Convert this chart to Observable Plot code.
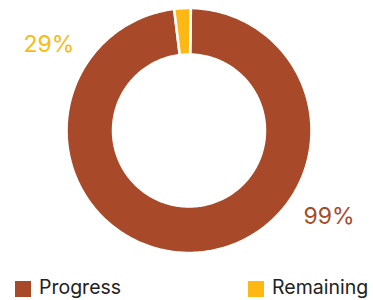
<!DOCTYPE html>
<html>
<head>
<meta charset="utf-8">
<script src="https://cdn.jsdelivr.net/npm/d3@7"></script>
<script src="https://cdn.jsdelivr.net/npm/@observablehq/plot@0.6"></script>
<style>
  html, body { margin: 0; padding: 0; background: #fff; }
  #wrap { width: 373px; height: 300px; position: relative; font-family: Inter, "Noto Sans", sans-serif; }
  .legend { position: absolute; left: 0; top: 269px; width: 373px; height: 31px; }
  .item { position: absolute; top: 0; display: flex; align-items: center; height: 38px; }
  .sw { width: 16px; height: 16px; margin-right: 8px; margin-top: 1px; }
  .lab { font-size: 19.5px; color: #222; line-height: 1; }
</style>
</head>
<body>
<div id="wrap"></div>
<script>
const categories = ["Progress", "Remaining"];
const values = [99, 2.2];
const labels = ["99%", "29%"];
const colors = ["#A8492A", "#FDB813"];

const W = 373, H = 262;
const cx = 188.5, cy = 130, R = 122.5; // px per unit radius
const inner = 0.62;

const pie = d3.pie().sort(null).value(d => d).startAngle(0.015).endAngle(2 * Math.PI + 0.015)(values);

const polys = [];
pie.forEach((p, i) => {
  const n = Math.max(4, Math.ceil((p.endAngle - p.startAngle) / (Math.PI / 180)));
  const pts = [];
  for (let k = 0; k <= n; k++) {
    const a = p.startAngle + (p.endAngle - p.startAngle) * k / n;
    pts.push({x: Math.sin(a), y: Math.cos(a), c: categories[i]});
  }
  for (let k = n; k >= 0; k--) {
    const a = p.startAngle + (p.endAngle - p.startAngle) * k / n;
    pts.push({x: inner * Math.sin(a), y: inner * Math.cos(a), c: categories[i]});
  }
  pts.push({...pts[0]});
  polys.push(pts);
});

const labelData = pie.map((p, i) => {
  const a = (p.startAngle + p.endAngle) / 2 - 55.5 * Math.PI / 180;
  return {x: 1.34 * Math.sin(a), y: 1.34 * Math.cos(a), t: labels[i], c: categories[i]};
});

const chart = Plot.plot({
  width: W, height: H,
  margin: 0,
  style: {fontFamily: "Inter, 'Noto Sans', sans-serif", background: "#fff"},
  x: {domain: [-cx / R, (W - cx) / R], range: [0, W], axis: null},
  y: {domain: [-(H - cy) / R, cy / R], range: [H, 0], axis: null},
  color: {domain: categories, range: colors},
  marks: [
    ...polys.map(pts => Plot.line(pts, {x: "x", y: "y", fill: "c", stroke: "white", strokeWidth: 2.6, curve: "linear"})),
    Plot.text(labelData, {x: "x", y: "y", text: "t", fill: "c", fontSize: 23, textAnchor: "middle", lineAnchor: "middle"})
  ]
});

const wrap = document.getElementById("wrap");
wrap.appendChild(chart);

const legend = document.createElement("div");
legend.className = "legend";
const lefts = [15, 248];
categories.forEach((c, i) => {
  const it = document.createElement("div");
  it.className = "item";
  it.style.left = lefts[i] + "px";
  it.innerHTML = `<div class="sw" style="background:${colors[i]}"></div><span class="lab">${c}</span>`;
  legend.appendChild(it);
});
wrap.appendChild(legend);
</script>
</body>
</html>
